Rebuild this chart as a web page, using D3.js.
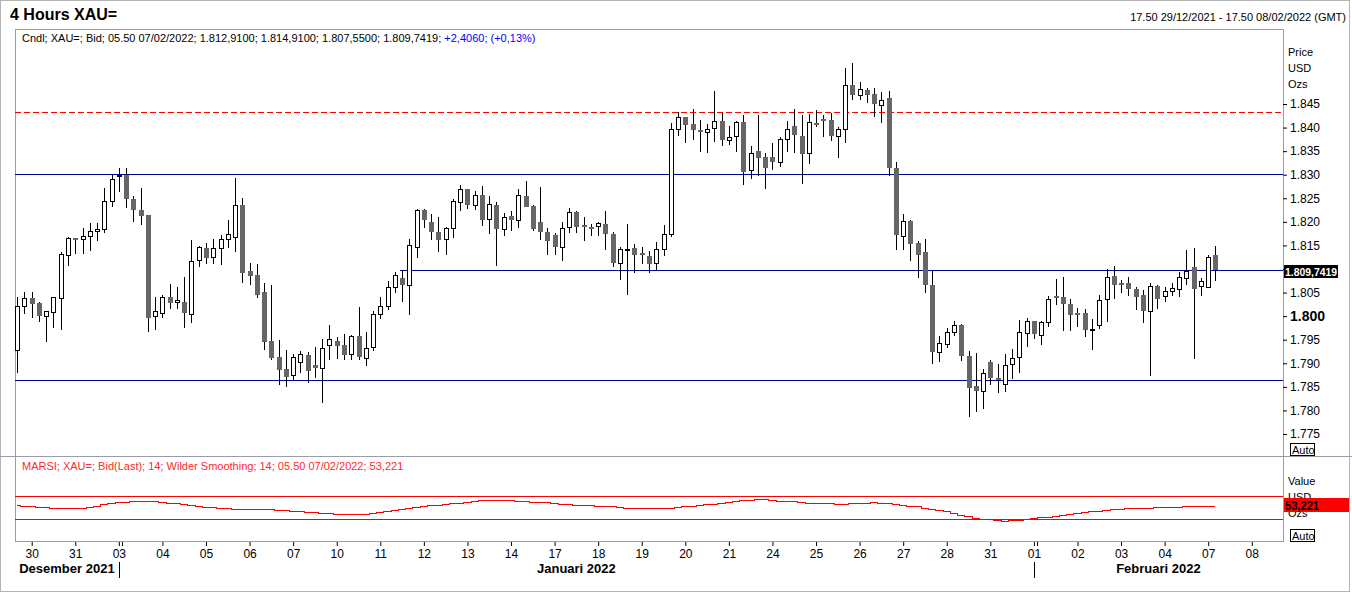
<!DOCTYPE html>
<meta charset="utf-8">
<style>
  body { margin: 0; background: #fff; }
  svg { display: block; font-family: "Liberation Sans", Arial, sans-serif; }
</style>
<div id="chart"></div>
<script src="https://cdnjs.cloudflare.com/ajax/libs/d3/7.8.5/d3.min.js"></script>
<script>

// 4h bars from 17.50 29/12/2021, six bars per trading day
var opens = [1792.7,1802.0,1803.8,1802.7,1799.9,1800.8,1803.8,1812.8,1816.6,1816.3,1816.9,1818.0,1818.4,1824.4,1829.7,1829.9,1824.8,1822.5,1821.5,1799.9,
  1800.8,1804.1,1802.9,1803.0,1800.6,1811.9,1814.4,1812.5,1814.4,1816.3,1816.9,1823.6,1809.6,1808.7,1805.1,1794.7,1791.3,1788.8,1787.4,1790.4,
  1791.8,1789.6,1788.9,1793.8,1794.7,1793.9,1791.9,1795.8,1791.1,1793.4,1800.4,1802.0,1806.1,1808.0,1806.5,1814.6,1822.5,1819.9,1817.8,1816.3,
  1818.6,1824.1,1826.9,1823.5,1825.7,1820.5,1823.6,1818.6,1821.2,1820.3,1825.5,1823.4,1819.9,1817.8,1817.2,1814.7,1818.8,1822.0,1819.3,1818.9,
  1819.1,1819.5,1817.4,1811.3,1814.2,1814.5,1813.3,1812.8,1811.2,1814.2,1817.3,1839.6,1842.2,1840.8,1839.5,1839.2,1839.8,1841.3,1837.5,1838.1,
  1841.1,1831.1,1835.0,1833.7,1833.7,1832.6,1837.5,1840.3,1838.2,1834.5,1841.0,1841.8,1841.6,1838.1,1839.6,1849.0,1846.8,1848.0,1847.1,1844.7,
  1846.3,1831.4,1817.1,1820.2,1815.5,1813.6,1806.5,1792.3,1794.0,1796.6,1798.1,1791.5,1785.2,1784.0,1790.3,1786.9,1785.5,1789.9,1791.5,1796.4,
  1798.9,1796.1,1798.7,1804.3,1804.1,1802.6,1800.6,1800.6,1797.1,1798.1,1803.8,1808.5,1807.1,1807.0,1805.8,1804.5,1800.9,1806.4,1804.3,1805.3,
  1805.9,1808.2,1810.4,1806.4,1806.1,1812.91];
var highs = [1804.1,1805.1,1805.1,1803.1,1801.1,1804.1,1813.5,1816.7,1816.6,1818.6,1819.7,1819.8,1827.2,1829.9,1831.4,1831.4,1825.5,1827.2,1821.5,1804.1,
  1804.4,1806.8,1806.2,1808.2,1816.1,1814.9,1815.5,1816.3,1817.2,1820.4,1829.2,1825.1,1811.2,1811.0,1807.0,1806.6,1794.9,1792.8,1792.0,1792.6,
  1792.3,1793.5,1795.2,1798.1,1795.6,1796.2,1796.1,1802.0,1796.6,1801.0,1804.1,1807.5,1809.4,1809.8,1816.3,1822.7,1822.7,1821.6,1821.0,1819.0,
  1824.8,1827.8,1827.0,1826.5,1827.7,1825.5,1824.3,1821.8,1822.4,1826.9,1828.7,1823.6,1827.3,1818.8,1817.7,1819.9,1823.0,1822.4,1821.0,1819.5,
  1820.0,1822.3,1817.8,1814.7,1819.6,1815.4,1814.7,1813.9,1815.7,1819.3,1840.9,1843.2,1842.3,1843.9,1841.7,1840.8,1847.8,1843.0,1840.3,1841.5,
  1842.7,1836.1,1842.7,1834.5,1836.7,1837.9,1841.4,1843.9,1842.7,1842.8,1843.7,1842.7,1843.0,1840.2,1852.6,1853.6,1849.6,1848.5,1848.3,1847.5,
  1847.8,1832.6,1821.7,1820.4,1815.9,1816.4,1809.6,1795.8,1797.4,1799.0,1798.3,1792.5,1792.1,1788.7,1790.6,1789.8,1791.9,1793.0,1799.2,1799.5,
  1798.9,1799.0,1804.3,1807.9,1808.2,1803.7,1801.8,1801.5,1799.4,1804.5,1809.9,1810.6,1807.7,1808.4,1806.1,1805.5,1807.0,1806.6,1806.1,1807.0,
  1809.4,1814.0,1814.4,1808.0,1813.0,1814.91];
var lows = [1787.9,1800.5,1799.7,1798.8,1794.6,1797.5,1797.1,1810.7,1813.2,1813.2,1813.9,1816.0,1817.6,1823.2,1826.4,1822.9,1820.0,1819.3,1796.7,1797.1,
  1799.5,1801.6,1801.6,1797.4,1798.6,1810.5,1811.1,1811.1,1810.8,1814.5,1813.5,1807.0,1806.5,1803.9,1792.9,1790.6,1785.4,1784.9,1786.5,1788.0,
  1785.9,1786.8,1781.5,1790.7,1790.9,1790.7,1790.6,1790.8,1789.5,1792.5,1799.3,1801.3,1805.0,1802.9,1800.2,1812.4,1818.6,1816.2,1813.5,1813.0,
  1816.5,1822.4,1822.8,1822.6,1819.1,1817.4,1810.7,1817.1,1818.1,1818.8,1823.2,1818.1,1816.2,1813.0,1813.0,1811.6,1817.7,1817.6,1816.0,1817.0,
  1816.9,1814.0,1810.5,1807.7,1804.5,1809.2,1811.1,1809.1,1809.8,1812.8,1816.7,1838.3,1836.8,1837.4,1834.8,1834.7,1837.0,1836.0,1836.2,1834.9,
  1827.9,1829.1,1829.7,1827.0,1831.0,1831.7,1834.9,1834.7,1828.1,1832.2,1840.2,1838.1,1837.2,1833.6,1836.8,1845.8,1845.8,1845.3,1842.3,1841.0,
  1829.8,1814.0,1814.0,1811.6,1808.0,1805.0,1789.8,1790.2,1793.2,1795.7,1790.4,1778.7,1779.7,1780.2,1785.4,1783.8,1784.0,1786.7,1787.9,1793.4,
  1795.1,1793.9,1797.8,1802.4,1796.9,1796.9,1797.8,1795.6,1792.8,1797.2,1798.8,1803.6,1805.0,1804.3,1801.2,1798.6,1787.2,1801.5,1803.1,1804.3,
  1804.1,1806.6,1791.0,1804.3,1806.1,1807.55];
var closes = [1802.1,1803.8,1802.6,1799.9,1801.0,1804.0,1813.1,1816.5,1816.2,1816.9,1818.0,1818.4,1824.4,1829.0,1829.9,1824.8,1822.4,1821.3,1799.7,1801.0,
  1804.1,1802.9,1803.4,1800.7,1811.8,1814.6,1812.3,1814.4,1816.3,1817.4,1823.6,1809.2,1808.6,1804.5,1794.4,1791.0,1788.6,1787.2,1791.3,1792.0,
  1788.4,1788.9,1793.2,1795.1,1793.7,1791.8,1795.8,1791.4,1793.2,1800.5,1802.2,1806.1,1808.7,1806.6,1815.0,1822.5,1820.3,1817.7,1816.2,1818.6,
  1824.4,1826.9,1823.4,1825.6,1820.5,1823.7,1818.6,1821.1,1820.3,1825.6,1823.2,1818.5,1817.7,1815.8,1814.7,1818.8,1822.0,1818.8,1818.8,1818.6,
  1819.7,1817.4,1811.3,1814.3,1814.3,1813.0,1812.8,1811.1,1814.2,1817.4,1839.6,1842.2,1840.6,1839.5,1839.3,1839.8,1841.3,1837.2,1838.1,1841.1,
  1830.4,1834.7,1833.6,1831.4,1832.6,1837.5,1839.6,1838.3,1834.3,1841.1,1840.9,1841.5,1838.3,1839.6,1849.0,1846.8,1848.1,1847.0,1844.9,1845.8,
  1831.5,1817.1,1820.2,1815.4,1813.0,1806.5,1792.3,1794.2,1796.6,1798.1,1791.6,1784.8,1784.2,1787.9,1786.8,1786.5,1789.6,1791.1,1796.7,1798.9,
  1796.1,1798.8,1803.6,1804.0,1802.6,1800.2,1800.4,1796.9,1797.2,1803.4,1808.4,1806.5,1806.8,1805.8,1804.1,1801.2,1806.3,1803.7,1805.3,1805.9,
  1808.4,1809.6,1805.7,1807.5,1812.5,1809.7419];

// RSI (14, Wilder) per bar
var rsi = [54.6,53.5,52.4,51.3,50.2,49.5,49.5,49.5,49.5,50.0,51.5,53.0,55.5,58.0,59.5,60.5,61.5,61.9,61.9,61.2,
  60.0,58.8,57.5,56.0,54.5,52.5,51.5,50.5,49.5,48.5,48.0,47.7,47.7,47.7,47.7,47.0,46.2,45.5,44.7,43.8,
  42.8,41.8,40.8,39.8,38.9,38.9,38.9,38.9,39.2,40.5,42.0,43.5,45.5,47.5,49.5,51.5,53.0,54.8,55.0,56.5,
  57.2,58.5,60.0,61.5,62.6,62.6,62.6,62.6,62.6,62.0,60.9,60.2,59.5,59.1,57.5,56.9,56.0,55.2,54.6,54.6,
  53.5,52.5,52.0,51.0,50.0,48.9,48.9,48.9,48.9,48.9,48.9,50.8,52.5,53.5,54.6,55.5,56.9,58.0,60.3,61.5,
  62.6,63.2,64.3,64.3,63.1,62.0,61.2,60.9,59.5,58.6,58.0,57.4,57.4,56.3,56.3,57.4,57.8,58.6,59.1,58.5,
  57.4,56.5,54.6,53.5,52.3,50.0,47.1,45.0,43.1,40.5,37.4,34.5,31.7,29.8,28.9,27.8,26.6,27.5,28.5,29.5,
  31.0,32.5,34.0,35.5,36.6,38.0,39.5,41.5,43.0,44.7,45.5,47.0,48.0,49.0,49.5,49.7,50.0,50.3,50.5,50.5,
  51.0,52.0,52.5,53.0,53.0,53.221];
var rsiBands = [70, 30];

var dayLabels = ["30","31","03","04","05","06","07","10","11","12","13","14","17","18","19","20","21","24","25","26","27","28","31","01","02","03","04","07","08"];
var months = ["Desember 2021", "Januari 2022", "Februari 2022"];
var monthStartDay = [2, 23];   // index in dayLabels where Jan / Feb begin

var priceTicks = [1775,1780,1785,1790,1795,1800,1805,1810,1815,1820,1825,1830,1835,1840,1845];
// horizontal lines drawn on the chart: [price, from bar, colour, dashed]
var levels = [
  [1843.2, null, "#ff0000", true],
  [1830.1, null, "#000096", false],
  [1809.74, 52.7, "#000096", false],
  [1786.4, null, "#000096", false]
];
var lastChange = 2.4060, lastChangePct = 0.13;
var lastStamp = "05.50 07/02/2022";

var W = 1352, H = 596;
var L = 15, R = 1283, T = 29, MID = 456, BOT = 541;
var frameColor = "#9b9bab";

var nl = d3.formatLocale({decimal: ",", thousands: ".", grouping: [3], currency: ["", ""]});
var f0 = nl.format(",.0f"), f4 = nl.format(",.4f"), f3 = nl.format(",.3f"), f2 = nl.format("+,.2f");

var svg = d3.select("#chart").append("svg")
  .attr("width", W).attr("height", H);

var x = d3.scaleLinear().domain([-0.3, 174.3]).range([L, R]);
var y = d3.scaleLinear().domain([1770.33, 1860.91]).range([MID, T]);
var yr = d3.scaleLinear().domain([-10, 140]).range([BOT + 0.5, MID + 0.5]);

// window border
svg.append("rect").attr("x", 0.5).attr("y", 0.5).attr("width", W - 3).attr("height", H - 5)
  .attr("fill", "none").attr("stroke", "#b4b4b4");
svg.append("line").attr("x1", 0).attr("x2", W).attr("y1", MID + 0.5).attr("y2", MID + 0.5)
  .attr("stroke", frameColor);

// panels
svg.append("rect").attr("x", L + 0.5).attr("y", T + 0.5).attr("width", R - L).attr("height", MID - T)
  .attr("fill", "none").attr("stroke", frameColor);
svg.append("rect").attr("x", L + 0.5).attr("y", MID + 0.5).attr("width", R - L).attr("height", BOT - MID)
  .attr("fill", "none").attr("stroke", frameColor);

// title + range
svg.append("text").attr("x", 10).attr("y", 20).attr("font-size", 16).attr("font-weight", "bold")
  .text("4 Hours XAU=");
svg.append("text").attr("x", 1346).attr("y", 21).attr("font-size", 11).attr("text-anchor", "end")
  .text("17.50 29/12/2021 - 17.50 08/02/2022 (GMT)");

// legend
var n = closes.length - 1;
var leg = svg.append("text").attr("x", 22).attr("y", 42).attr("font-size", 11);
leg.append("tspan").text("Cndl; XAU=; Bid; " + lastStamp + "; " + f4(opens[n]) + "; " + f4(highs[n]) + "; " +
  f4(lows[n]) + "; " + f4(closes[n]) + "; ");
leg.append("tspan").attr("fill", "#0000ff").text(nl.format("+,.4f")(lastChange) + "; (" + f2(lastChangePct) + "%)");

// levels
var gl = svg.append("g").attr("shape-rendering", "crispEdges");
levels.forEach(function(d) {
  gl.append("line")
    .attr("x1", d[1] == null ? L : x(d[1])).attr("x2", R)
    .attr("y1", Math.round(y(d[0])) + 0.5).attr("y2", Math.round(y(d[0])) + 0.5)
    .attr("stroke", d[2]).attr("stroke-dasharray", d[3] ? "6,3" : null);
});

// candles
var bars = d3.range(closes.length);
var gc = svg.append("g").attr("shape-rendering", "crispEdges");
gc.selectAll("line").data(bars).enter().append("line")
  .attr("x1", function(i) { return Math.round(x(i)) + 0.5; })
  .attr("x2", function(i) { return Math.round(x(i)) + 0.5; })
  .attr("y1", function(i) { return y(highs[i]); })
  .attr("y2", function(i) { return y(lows[i]); })
  .attr("stroke", "#000");
gc.selectAll("rect").data(bars).enter().append("rect")
  .each(function(i) {
    var up = closes[i] >= opens[i];
    var top = y(Math.max(opens[i], closes[i])), bot = y(Math.min(opens[i], closes[i]));
    var r = Math.round(x(i));
    if (up) {
      d3.select(this).attr("x", r - 1.5).attr("width", 4)
        .attr("y", Math.round(top) + 0.5).attr("height", Math.max(1, Math.round(bot - top)))
        .attr("fill", "#fff").attr("stroke", "#000");
    } else {
      d3.select(this).attr("x", r - 2).attr("width", 5)
        .attr("y", Math.round(top)).attr("height", Math.max(2, Math.round(bot - top)))
        .attr("fill", "#666");
    }
  });

// price axis
var py = Math.round(y(closes[n]));
var ay = svg.append("g").attr("transform", "translate(" + R + ",0)")
  .call(d3.axisRight(y).tickValues(priceTicks).tickSize(4).tickFormat(f0));
ay.select(".domain").remove();
ay.selectAll("text").attr("font-size", 12).attr("font-family", null).attr("fill", "#000")
  .filter(function(d) { return d === 1800; }).attr("font-size", 14).attr("font-weight", "bold");
// the last-price box hides the tick label it sits on
ay.selectAll(".tick").filter(function(d) { return Math.abs(y(d) - py) < 8; }).select("text").remove();
["Price", "USD", "Ozs"].forEach(function(t, k) {
  svg.append("text").attr("x", 1288).attr("y", 56 + k * 16).attr("font-size", 11).text(t);
});
svg.append("rect").attr("x", 1284).attr("y", py - 5).attr("width", 54).attr("height", 13).attr("fill", "#000");
svg.append("text").attr("x", 1285).attr("y", py + 6).attr("font-size", 11).attr("font-weight", "bold")
  .attr("textLength", 52).attr("lengthAdjust", "spacingAndGlyphs")
  .attr("fill", "#fff").text(f4(closes[n]));

// RSI panel
svg.append("text").attr("x", 22).attr("y", 470).attr("font-size", 11).attr("fill", "#ff2a2a")
  .text("MARSI; XAU=; Bid(Last);  14; Wilder Smoothing; 14; " + lastStamp + "; " + f3(rsi[n]));
rsiBands.forEach(function(v) {
  svg.append("line").attr("x1", L).attr("x2", R)
    .attr("y1", Math.round(yr(v)) + 0.5).attr("y2", Math.round(yr(v)) + 0.5)
    .attr("stroke", "#ff0000").attr("shape-rendering", "crispEdges");
});
svg.append("path").datum(bars)
  .attr("d", d3.line().x(function(i) { return x(i); }).y(function(i) { return Math.round(yr(rsi[i])) + 0.5; })
    .curve(d3.curveStep))
  .attr("fill", "none").attr("stroke", "#ff0000").attr("shape-rendering", "crispEdges");
["Value", "USD", "Ozs"].forEach(function(t, k) {
  svg.append("text").attr("x", 1288).attr("y", 485 + k * 16).attr("font-size", 11).text(t);
});
var ry = Math.round(yr(rsi[n]));
svg.append("rect").attr("x", 1284).attr("y", ry - 8).attr("width", 65).attr("height", 14).attr("fill", "#ff0000");
svg.append("text").attr("x", 1285).attr("y", ry + 4).attr("font-size", 12).attr("font-weight", "bold")
  .attr("textLength", 34).attr("lengthAdjust", "spacingAndGlyphs")
  .attr("fill", "#000").text(f3(rsi[n]));

// Auto buttons
[443, 529].forEach(function(yy) {
  svg.append("rect").attr("x", 1290.5).attr("y", yy + 0.5).attr("width", 24).attr("height", 12)
    .attr("fill", "#fff").attr("stroke", "#000");
  svg.append("text").attr("x", 1292).attr("y", yy + 11).attr("font-size", 11).text("Auto");
});

// time axis
var dayPos = dayLabels.map(function(d, k) { return 2 + k * 6; });
var ax = svg.append("g").attr("transform", "translate(0," + (BOT + 1) + ")")
  .call(d3.axisBottom(x).tickValues(dayPos).tickSize(4)
    .tickFormat(function(d, k) { return dayLabels[k]; }));
ax.select(".domain").remove();
ax.selectAll("text").attr("font-size", 12).attr("font-family", null).attr("fill", "#000");
ax.selectAll("line").attr("stroke", "#000");

var bounds = [L].concat(monthStartDay.map(function(k) { return x(dayPos[k]); })).concat([R]);
months.forEach(function(m, k) {
  svg.append("text").attr("x", (bounds[k] + bounds[k + 1]) / 2).attr("y", 573)
    .attr("text-anchor", "middle").attr("font-size", 13).attr("font-weight", "bold").text(m);
});
monthStartDay.forEach(function(k) {
  var xx = Math.round(x(dayPos[k])) + 0.5;
  svg.append("line").attr("x1", xx).attr("x2", xx).attr("y1", 562).attr("y2", 578).attr("stroke", "#000");
  svg.append("line").attr("x1", xx + 3).attr("x2", xx + 3).attr("y1", BOT + 1).attr("y2", BOT + 5).attr("stroke", "#000");
});

</script>
